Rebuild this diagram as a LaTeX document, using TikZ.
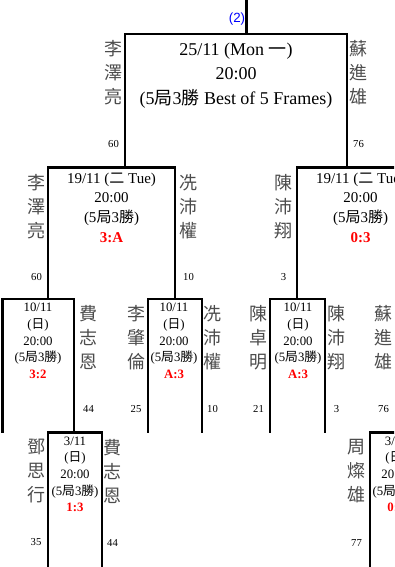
\documentclass[tikz,border=0pt]{standalone}
\usepackage{fontspec}
\setmainfont{Liberation Serif}
\newfontfamily\cjk{Noto Sans CJK TC}
\newfontfamily\tagfont{Liberation Sans}
\newcommand{\matchscore}[1]{{\color{red}\bfseries #1}}

\begin{document}
\begin{tikzpicture}[
    x=0.75pt, y=-0.75pt,
    bracket/.style={
        draw=black,
        line width=1.7pt
    },
    player/.style={
        anchor=north,
        inner sep=0pt,
        align=center,
        font=\cjk\fontsize{13.5}{18}\selectfont,
        text=black!70
    },
    seed/.style={
        inner sep=0pt,
        font=\fontsize{8}{9}\selectfont
    },
    final/.style={
        anchor=north,
        inner sep=0pt,
        align=center,
        font=\fontsize{13.5}{18.4}\selectfont
    },
    semi/.style={
        anchor=north,
        inner sep=0pt,
        align=center,
        font=\fontsize{11.25}{14.8}\selectfont
    },
    quarter/.style={
        anchor=north,
        inner sep=0pt,
        align=center,
        font=\fontsize{9.6}{12.5}\selectfont
    },
    tag/.style={
        inner sep=0pt,
        text=blue,
        font=\tagfont\fontsize{10}{12}\selectfont
    }
]

\useasboundingbox (0,0) rectangle (394,567);
\clip (0,0) rectangle (394,567);

\coordinate (feed) at (246.5,0);
\coordinate (foot) at (0,567);
\coordinate (f nw) at (125,34);   \coordinate (f ne) at (347,34);
\coordinate (s1 nw) at (48,167.5); \coordinate (s1 ne) at (175,167.5);
\coordinate (s2 nw) at (297,167.5); \coordinate (s2 ne) at (424,167.5);
\coordinate (q1 nw) at (2.5,299);  \coordinate (q1 ne) at (74,299);
\coordinate (q2 nw) at (148,299);  \coordinate (q2 ne) at (202,299);
\coordinate (q3 nw) at (270,299);  \coordinate (q3 ne) at (325,299);
\coordinate (r1 nw) at (48,432.5); \coordinate (r1 ne) at (102,432.5);
\coordinate (r2 nw) at (370,432.5); \coordinate (r2 ne) at (424,432.5);

\draw[bracket] (feed) -- (feed |- f nw);
\draw[bracket] (f nw |- s1 nw) |- (f ne) -- (f ne |- s2 nw);
\draw[bracket] (s1 nw |- q1 nw) |- (s1 ne) -- (s1 ne |- q2 nw);
\draw[bracket] (s2 nw |- q3 nw) |- (s2 ne) -- (s2 ne |- q3 nw);
\foreach \q in {q1,q2,q3}
    \draw[bracket] (\q\space nw |- r1 nw) |- (\q\space ne) -- (\q\space ne |- r1 nw);
\foreach \r in {r1,r2}
    \draw[bracket] (\r\space nw |- foot) |- (\r\space ne) -- (\r\space ne |- foot);

\node[tag] (round) at (237,19) {(2)};

\node[final] (final) at (236,42.5) {25/11 (Mon {\cjk 一})\\20:00\\(5{\cjk 局}3{\cjk 勝} Best of 5 Frames)};
\node[semi] (semi1) at (111.5,172.5) {19/11 ({\cjk 二} Tue)\\20:00\\(5{\cjk 局}3{\cjk 勝})\\\matchscore{3:A}};
\node[semi] (semi2) at (360.5,172.5) {19/11 ({\cjk 二} Tue)\\20:00\\(5{\cjk 局}3{\cjk 勝})\\\matchscore{0:3}};
\node[quarter] (qf1) at (38,303) {10/11\\({\cjk 日})\\20:00\\(5{\cjk 局}3{\cjk 勝})\\\matchscore{3:2}};
\node[quarter] (qf2) at (174,303) {10/11\\({\cjk 日})\\20:00\\(5{\cjk 局}3{\cjk 勝})\\\matchscore{A:3}};
\node[quarter] (qf3) at (298,303) {10/11\\({\cjk 日})\\20:00\\(5{\cjk 局}3{\cjk 勝})\\\matchscore{A:3}};
\node[quarter] (r16a) at (75,436.5) {3/11\\({\cjk 日})\\20:00\\(5{\cjk 局}3{\cjk 勝})\\\matchscore{1:3}};
\node[quarter] (r16b) at (396,436.5) {3/11\\({\cjk 日})\\20:00\\(5{\cjk 局}3{\cjk 勝})\\\matchscore{0:3}};

% players: x / top of their match / name / seed
\foreach \px/\py/\pname/\pseed [count=\i] in {
    113.5/34/{李\\澤\\亮}/60, 358.5/34/{蘇\\進\\雄}/76,
    36.5/167.5/{李\\澤\\亮}/60, 188.5/167.5/{冼\\沛\\權}/10, 283.5/167.5/{陳\\沛\\翔}/3,
    88.5/299/{費\\志\\恩}/44, 136/299/{李\\肇\\倫}/25, 212.5/299/{冼\\沛\\權}/10,
    258.5/299/{陳\\卓\\明}/21, 336.5/299/{陳\\沛\\翔}/3, 383.5/299/{蘇\\進\\雄}/76,
    36/432.5/{鄧\\思\\行}/35, 112.5/432.5/{費\\志\\恩}/44, 356.5/432.5/{周\\燦\\雄}/77}
{
    \node[player] (name\i) at (\px,\py+6.5) {\pname};
    \node[seed] (seed\i) at (\px,\py+110) {\pseed};
}

\end{tikzpicture}
\end{document}
